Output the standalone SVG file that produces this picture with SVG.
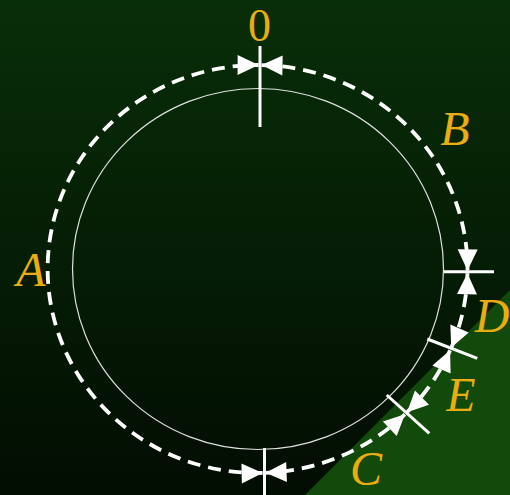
<svg xmlns="http://www.w3.org/2000/svg" width="510" height="495" viewBox="0 0 510 495">
  <defs>
    <linearGradient id="bg" x1="0" y1="0" x2="0" y2="1">
      <stop offset="0" stop-color="#082e08"/>
      <stop offset="1" stop-color="#020d02"/>
    </linearGradient>
    <marker id="arr" markerUnits="userSpaceOnUse" markerWidth="30" markerHeight="30" refX="0" refY="0" orient="auto-start-reverse" overflow="visible" viewBox="-25 -15 30 30">
      <path d="M0,0 L-21,-10 L-21,10 Z" fill="#ffffff"/>
    </marker>
    <style>
      .arc { fill: none; stroke: #ffffff; stroke-width: 3.8; stroke-dasharray: 13 8; marker-start: url(#arr); marker-end: url(#arr); }
      .tick { stroke: #ffffff; stroke-width: 3; fill: none; }
      .lbl { font-family: "Liberation Serif", "Times New Roman", serif; font-style: italic; font-size: 48px; fill: #e9ad10; text-anchor: middle; }
      .num { font-style: normal; font-size: 46px; }
    </style>
  </defs>

  <rect x="0" y="0" width="510" height="495" fill="url(#bg)"/>
  <polygon points="305,495 510,290 510,495" fill="#114a0b"/>

  <ellipse id="inner" cx="258" cy="269" rx="185.5" ry="180.5" fill="none" stroke="#e0e0e0" stroke-width="1.2"/>

  <g id="connectors">
    <path class="arc" d="M261.5,65.04 A210,204 0 0 1 467.5,270.42"/>
    <path class="arc" d="M467.45,273.27 A210,204 0 0 1 451.23,347.73"/>
    <path class="arc" d="M450.08,350.35 A210,204 0 0 1 407.03,412.24"/>
    <path class="arc" d="M404.95,414.26 A210,204 0 0 1 265.56,472.85"/>
    <path class="arc" d="M262.63,472.94 A210,204 0 1 1 258.6,65.0"/>
  </g>

  <g id="tick-0"><line class="tick" x1="260" y1="46" x2="260" y2="127"/></g>
  <g id="tick-right"><line class="tick" x1="444" y1="271.8" x2="494" y2="271.8"/></g>
  <g id="tick-D"><line class="tick" x1="427.3" y1="339" x2="477.3" y2="358.3"/></g>
  <g id="tick-E"><line class="tick" x1="386.7" y1="395" x2="429.3" y2="433.3"/></g>
  <g id="tick-C"><line class="tick" x1="264.5" y1="448" x2="264.5" y2="495"/></g>

  <g id="label-0"><text class="lbl num" x="259.5" y="41">0</text></g>
  <g id="label-A"><text class="lbl" x="31" y="286">A</text></g>
  <g id="label-B"><text class="lbl" x="455" y="145">B</text></g>
  <g id="label-C"><text class="lbl" x="366" y="485">C</text></g>
  <g id="label-D"><text class="lbl" x="492" y="332">D</text></g>
  <g id="label-E"><text class="lbl" x="461" y="411">E</text></g>
</svg>
